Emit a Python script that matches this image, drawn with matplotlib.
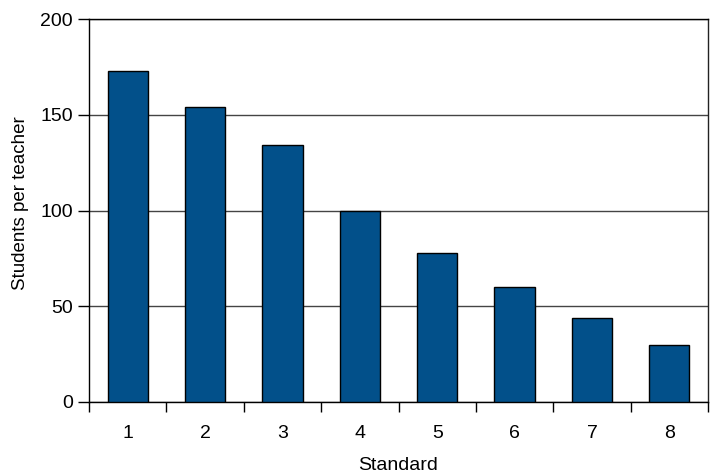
import matplotlib
matplotlib.use("Agg")
import matplotlib.pyplot as plt
import numpy as np

plt.rcParams['font.family'] = ['Liberation Sans', 'DejaVu Sans']

standards = [1, 2, 3, 4, 5, 6, 7, 8]
students_per_teacher = [173, 154, 134, 100, 78, 60, 44, 30]

fig = plt.figure(figsize=(7.14, 4.76), dpi=100)
ax = fig.add_axes([0.1247, 0.1555, 0.8669, 0.8045])

x = np.arange(len(standards))
ax.bar(x, students_per_teacher, width=0.52, color="#02508a",
       edgecolor="black", linewidth=1.0, zorder=3)

ax.set_xlim(-0.5, len(standards) - 0.5)
ax.set_ylim(0, 200)
ax.set_yticks([0, 50, 100, 150, 200])
ax.yaxis.grid(True, color="#444444", linewidth=1.0, zorder=0)

# category ticks between bars, labels centred under bars
ax.set_xticks(np.arange(-0.5, len(standards), 1.0))
ax.set_xticklabels([])
ax.set_xticks(x, minor=True)
ax.set_xticklabels([str(s) for s in standards], minor=True, fontsize=14)
ax.tick_params(axis="x", which="major", direction="out", length=7, width=1, pad=2)
ax.tick_params(axis="x", which="minor", length=0, pad=16.5)
ax.tick_params(axis="y", direction="out", length=8, width=1, labelsize=14, pad=3.5)

for side in ["left", "bottom", "top", "right"]:
    ax.spines[side].set_linewidth(1.0)
    ax.spines[side].set_color("black")
ax.spines["right"].set_color("#222222")

ax.set_xlabel("Standard", fontsize=14, labelpad=11)
ax.set_ylabel("Students per teacher", fontsize=13.5)
ax.yaxis.set_label_coords(-0.097, 0.518)

fig.savefig("out.png", dpi=100)
